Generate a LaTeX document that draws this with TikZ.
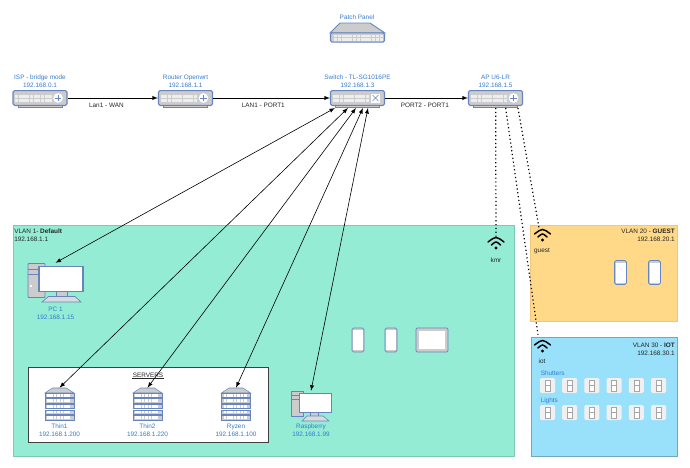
\documentclass[tikz,border=0pt]{standalone}
\usepackage{fontspec}
\setmainfont{Liberation Sans}
\usetikzlibrary{arrows, positioning, calc}
\definecolor{vlangreen}{RGB}{147,236,211}
\definecolor{vlanorange}{RGB}{255,217,135}
\definecolor{vlanblue}{RGB}{153,224,250}
\definecolor{hostblue}{RGB}{54,122,205}
\definecolor{iconline}{RGB}{104,132,190}
\definecolor{icongray}{RGB}{204,204,204}
\definecolor{portgray}{RGB}{238,238,238}

\begin{document}
\begin{tikzpicture}[
  x=0.75pt, y=-0.75pt,
  every node/.style={font=\fontsize{4.8}{6}\selectfont, inner sep=0pt},
  netbox/.style={rectangle, draw=iconline, fill=icongray, line width=0.8pt,
                 rounded corners=1.2pt, minimum width=40.5pt, minimum height=11.2pt},
  hostbox/.style={rectangle, minimum width=#1},
  hostlabel/.style={text=hostblue, align=center},
  linklabel/.style={text=black!85, align=center},
  tagleft/.style={anchor=west, align=left, text=black!85},
  tagright/.style={anchor=east, align=right, text=black!85},
  arrow/.style={-latex, line width=0.45pt},
  duplex/.style={latex-latex, line width=0.45pt},
  airlink/.style={dotted, line width=0.9pt},
  vlanbox/.style={line width=0.6pt},
  pics/ports/.style={code={
    \foreach \r in {-3,1.2}
      \foreach \c in {0,...,9}
        \fill[portgray] ({-25+\c*3.7},\r) rectangle ++(3.2,3);
  }},
  pics/routerknob/.style={code={
    \fill[white] (18,0) circle (4.8);
    \draw[iconline, line width=0.5pt] (14.8,0) -- (21.2,0) (18,-3.2) -- (18,3.2);
  }},
  pics/switchknob/.style={code={
    \fill[white] (13.5,-4.5) rectangle (22.5,4.5);
    \draw[iconline, line width=0.5pt] (15,-3) -- (21,3) (15,3) -- (21,-3);
  }},
  pics/basebar/.style={code={
    \draw[iconline, fill=icongray, line width=0.6pt] (-22,7.5) rectangle (22,9.5);
  }},
  pics/desktop/.style={code={
    \draw[iconline, fill=icongray, line width=0.7pt, rounded corners=0.5pt] (-27.5,-19) rectangle (-10.5,15);
    \draw[iconline, line width=0.5pt] (-27.5,-13) -- (-10.5,-13) (-27.5,-8) -- (-10.5,-8);
    \fill[white] (-25.5,2) rectangle ++(2,2);
    \draw[iconline, fill=icongray, line width=0.5pt] (0.5,9) rectangle (11.5,14);
    \draw[iconline, fill=white, line width=0.9pt] (-16.5,-16) rectangle (27.5,9);
    \draw[iconline, fill=icongray!70, line width=0.5pt] (-7,14) -- (19.5,14) -- (25.5,19.5) -- (-13.5,19.5) -- cycle;
  }},
  pics/smalldesktop/.style={code={
    \draw[iconline, fill=icongray, line width=0.5pt] (-20,-15) rectangle (-8,10);
    \draw[iconline, line width=0.4pt] (-20,-10.5) -- (-8,-10.5) (-20,-6.5) -- (-8,-6.5);
    \draw[iconline, fill=icongray, line width=0.4pt] (-1,5) rectangle (7,10);
    \draw[iconline, fill=white, line width=0.7pt] (-12,-13) rectangle (20,6);
    \draw[iconline, fill=icongray!70, line width=0.4pt] (-4,10) -- (12,10) -- (18,15) -- (-9,15) -- cycle;
  }},
  pics/rack/.style={code={
    \draw[iconline, fill=icongray, line width=0.4pt] (-14.5,-11) -- (-7,-16) -- (7,-16) -- (14.5,-11) -- cycle;
    \foreach \n in {0,...,4} {
      \draw[iconline, fill=icongray, line width=0.4pt] (-14.5,{-11+\n*5.6}) rectangle (14.5,{-6.6+\n*5.6});
      \foreach \c in {0,...,6}
        \fill[white] ({-12.5+\c*3.4},{-10.2+\n*5.6}) rectangle ++(2.6,2.8);
    }
  }},
  pics/phone/.style={code={
    \draw[iconline, fill=icongray, line width=0.6pt, rounded corners=1.2pt] (-6,-12) rectangle (6,12);
    \fill[white] (-5,-10) rectangle (5,10);
  }},
  pics/tablet/.style={code={
    \draw[iconline, fill=icongray, line width=0.7pt, rounded corners=1pt] (-16,-12) rectangle (16,12);
    \fill[white] (-13,-9) rectangle (13,9);
  }},
  pics/wifi/.style={code={
    \draw[line width=1.1pt, line cap=round] (-8,-6) .. controls (0,-12) .. (8,-6);
    \draw[line width=1.1pt, line cap=round] (-4.6,-3) .. controls (0,-7) .. (4.6,-3);
    \fill (0,0) circle (1.7);
  }},
  pics/wallswitch/.style={code={
    \fill[black!6, rounded corners=1pt] (-7.5,-7.5) rectangle (7.5,7.5);
    \draw[black!35, fill=white, line width=0.4pt] (-2.5,-5.5) rectangle (2.5,5.5);
    \draw[black!35, line width=0.4pt] (-2.5,0) -- (2.5,0);
  }}
]
\useasboundingbox (0,0) rectangle (690,468);

% vlan areas
\draw[vlanbox, draw=black!15!vlangreen, fill=vlangreen] (13,225) rectangle (514,456);
\draw[vlanbox, draw=black!8!vlanorange, fill=vlanorange] (530,225) rectangle (677,321);
\draw[vlanbox, draw=black!25!vlanblue, fill=vlanblue] (531,337) rectangle (677,456);
\draw[black!75, fill=white, line width=0.7pt] (28,367) rectangle (268,442);

\node[tagleft] (vlanone) at (14,235.5) {VLAN 1- \textbf{Default}\\192.168.1.1};
\node[tagright] (vlantwenty) at (675,235.5) {VLAN 20 - \textbf{GUEST}\\192.168.20.1};
\node[tagright] (vlanthirty) at (675,349) {VLAN 30 - \textbf{IOT}\\192.168.30.1};
\node[linklabel] (servers) at (148,375) {SERVERS};
\draw[black!85, line width=0.3pt] ([yshift=-0.5pt]servers.south west) -- ([yshift=-0.5pt]servers.south east);

% top row
\node[netbox] (isp) at (40,98) {};
\node[netbox] (router) at (185.5,98) {};
\node[netbox] (sw) at (357.5,98) {};
\node[netbox] (ap) at (495.5,98) {};
\foreach \dev in {isp,router,sw,ap} {
  \pic at (\dev) {basebar};
  \pic at (\dev) {ports};
}
\foreach \dev in {isp,router,ap}
  \pic at (\dev) {routerknob};
\pic at (sw) {switchknob};
\node[hostlabel, above=1.6pt of isp] (isplabel) {ISP - bridge mode\\192.168.0.1};
\node[hostlabel, above=1.6pt of router] (routerlabel) {Router Openwrt\\192.168.1.1};
\node[hostlabel, above=1.6pt of sw] (swlabel) {Switch - TL-SG1016PE\\192.168.1.3};
\node[hostlabel, above=1.6pt of ap] (aplabel) {AP U6-LR\\192.168.1.5};

% patch panel
\draw[iconline, fill=icongray, line width=0.7pt] (340,23) -- (370,23) -- (385,33) -- (330,33) -- cycle;
\node[netbox, minimum height=7pt] (patch) at (357.5,37.5) {};
\foreach \r in {34.6,38.4}
  \foreach \c in {0,...,12}
    \fill[portgray] ({334+\c*3.8},\r) rectangle ++(3.1,2.8);
\node[hostlabel] (patchlabel) at (357,17) {Patch Panel};

% hosts
\node[hostbox=41.2pt, minimum height=29.2pt] (pc1) at (55.5,282.5) {};
\pic at (pc1) {desktop};
\node[hostlabel, below=3.6pt of pc1] (pclabel) {PC 1\\192.168.1.15};

\node[hostbox=21.7pt, minimum height=24pt] (thin1) at (59.5,404) {};
\node[hostbox=21.7pt, minimum height=24pt] (thin2) at (147.5,404) {};
\node[hostbox=21.7pt, minimum height=24pt] (ryzen) at (236,404) {};
\foreach \srv in {thin1,thin2,ryzen}
  \pic at (\srv) {rack};
\node[hostlabel, below=2.6pt of thin1] (thinonelabel) {Thin1\\192.168.1.200};
\node[hostlabel, below=2.6pt of thin2] (thintwolabel) {Thin2\\192.168.1.220};
\node[hostlabel, below=2.6pt of ryzen] (ryzenlabel) {Ryzen\\192.168.1.100};

\node[hostbox=30pt, minimum height=22.5pt] (raspi) at (311,406) {};
\pic at (raspi) {smalldesktop};
\node[hostlabel, below=1.6pt of raspi] (raspilabel) {Raspberry\\192.168.1.99};

% clients
\foreach \x in {358,391}
  \pic at (\x,340) {phone};
\pic at (432,340) {tablet};
\foreach \x in {620.5,654.5}
  \pic at (\x,272.5) {phone};

% access points
\node[hostbox=12pt, minimum height=9pt] (kmr) at (496,243) {};
\node[hostbox=12pt, minimum height=9pt] (guest) at (539,234) {};
\node[hostbox=12pt, minimum height=9pt] (iot) at (538,341) {};
\pic at (496,248) {wifi};
\pic at (542.5,240) {wifi};
\pic at (542.5,351) {wifi};
\node[tagleft, anchor=center] (kmrlabel) at (496,260) {kmr};
\node[tagleft, anchor=center] (guestlabel) at (542,251) {guest};
\node[tagleft, anchor=center] (iotlabel) at (542,361) {iot};

% switches of the iot vlan
\node[hostlabel, anchor=west] (shutters) at (540.5,373) {Shutters};
\node[hostlabel, anchor=west] (lights) at (540.5,400.5) {Lights};
\foreach \c in {0,...,5} {
  \pic at ({547.5+\c*22.2},385.5) {wallswitch};
  \pic at ({547.5+\c*22.2},412.5) {wallswitch};
}

\draw[arrow] (isp) -- node[linklabel, below=3.4pt, pos=0.43] (wan) {Lan1 - WAN} (router);
\draw[arrow] (router) -- node[linklabel, below=3.4pt, pos=0.43] (lanone) {LAN1 - PORT1} (sw);
\draw[arrow] (sw) -- node[linklabel, below=3.4pt, pos=0.48] (porttwo) {PORT2 - PORT1} (ap);

% switch down to the hosts
\foreach \host/\dx in {pc1/5, thin1/18, thin2/26, ryzen/33, raspi/38}
  \draw[duplex] ([shift={(\dx,2)}]sw.south west) -- (\host.north);

% wireless
\draw[airlink] ([shift={(27.7,2)}]ap.south west) -- (kmr.north);
\draw[airlink] ([shift={(37.7,2)}]ap.south west) -- (iot.north);
\draw[airlink] ([shift={(50,2)}]ap.south west) -- (guest.north);
\end{tikzpicture}
\end{document}
